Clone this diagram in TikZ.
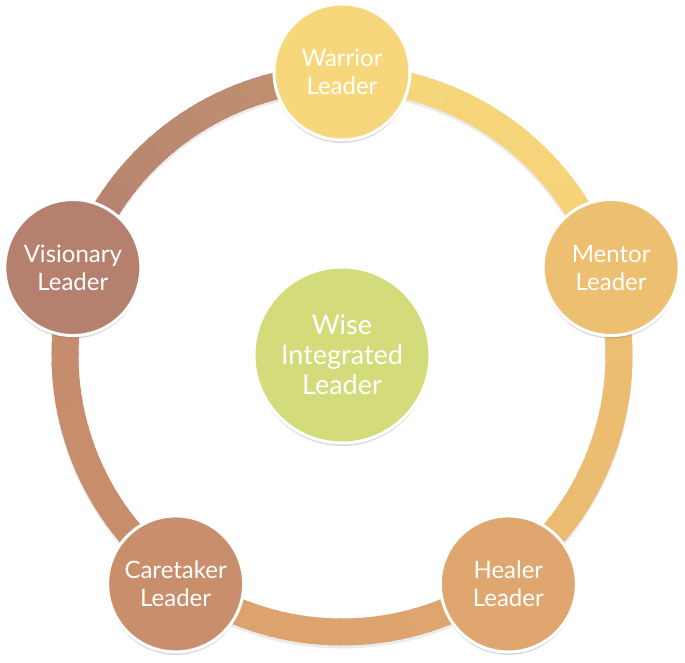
\documentclass[tikz,border=0pt]{standalone}
\usepackage{fontspec}
\setmainfont{Lato}
\usetikzlibrary{shadows}
\definecolor{cwar}{HTML}{F7D77B}
\definecolor{cmen}{HTML}{EDBF71}
\definecolor{chea}{HTML}{DFA66F}
\definecolor{ccar}{HTML}{C98F6C}
\definecolor{cvis}{HTML}{B5816E}
\definecolor{cwise}{HTML}{D3DB7B}
\begin{document}
\begin{tikzpicture}[x=1pt,y=1pt,
  leader/.style={circle, minimum size=136pt, inner sep=0pt, draw=white, line width=3pt,
    text=white, align=center, font=\fontsize{24}{28}\selectfont,
    drop shadow={shadow xshift=0pt,shadow yshift=-3pt,opacity=0.3}},
  ringseg/.style={line width=27pt, line cap=butt}]
\useasboundingbox (0,0) rectangle (685,662);
\coordinate (c) at (342,307);
% ring shadow
\draw[line width=27pt, black, opacity=0.08] ([yshift=-3pt]c) circle[radius=277];
% ring, each segment in the colour of its clockwise start node
\foreach \ca/\cb [count=\i from 0] in {cwar/cmen, cmen/chea, chea/ccar, ccar/cvis, cvis/cwar} {
  \foreach \t in {0,2,...,70} {
    \pgfmathsetmacro\a{90-72*\i-\t}
    \pgfmathtruncatemacro\p{100-\t/72*20}
    \draw[ringseg, color=\ca!\p!\cb] ([shift={(\a:277)}]c) arc[start angle=\a, end angle=\a-2.6, radius=277];
  }
}
\node[leader, fill=cwar] (war) at ([shift={(90:283)}]c) {Warrior\\Leader};
\node[leader, fill=cmen] (men) at ([shift={(18:283)}]c) {Mentor\\Leader};
\node[leader, fill=chea] (hea) at ([shift={(-54:283)}]c) {Healer\\Leader};
\node[leader, fill=ccar] (car) at ([shift={(-126:283)}]c) {Caretaker\\Leader};
\node[leader, fill=cvis] (vis) at ([shift={(162:283)}]c) {Visionary\\Leader};
\node[leader, fill=cwise, minimum size=176pt, font=\fontsize{27}{30}\selectfont] (wise) at (c) {Wise\\Integrated\\Leader};
\end{tikzpicture}
\end{document}
